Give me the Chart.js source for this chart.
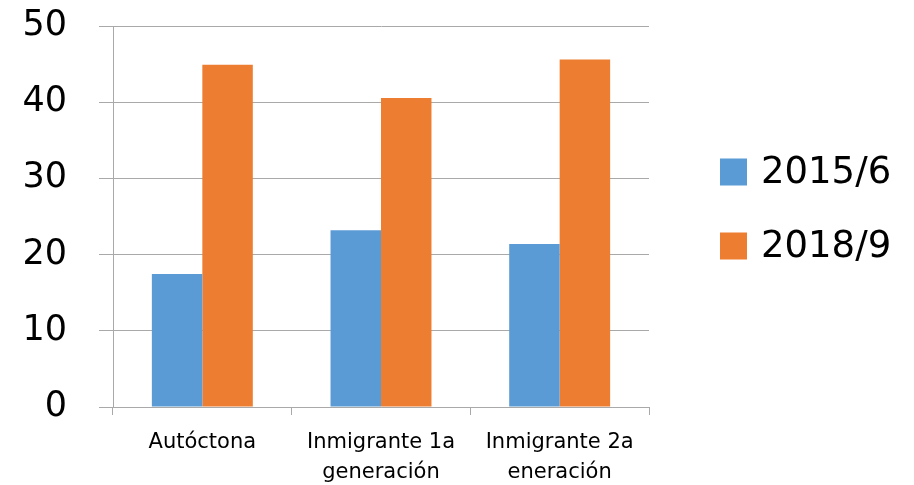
<!DOCTYPE html>
<html>
<head>
<meta charset="utf-8">
<script src="https://cdn.jsdelivr.net/npm/chart.js@4/dist/chart.umd.min.js"></script>
<style>
  html, body { margin: 0; padding: 0; background: #fff; overflow: hidden; }
  #wrap { width: 914px; height: 485px; }
</style>
</head>
<body>
<div id="wrap"><canvas id="myChart" width="914" height="485"></canvas></div>
<script>
const categories = ['Autóctona', ['Inmigrante 1a', 'generación'], ['Inmigrante 2a', 'eneración']];
const seriesNames = ['2015/6', '2018/9'];
const values2015 = [17.45, 23.2, 21.4];
const values2018 = [44.9, 40.55, 45.6];
const yTicks = [0, 10, 20, 30, 40, 50];

const FONT = '"DejaVu Sans", sans-serif';
const GRID = '#a9a9a9';

// legend drawn by hand to the right of the plot
const sideLegend = {
  id: 'sideLegend',
  afterDraw(chart) {
    const ctx = chart.ctx;
    const x = 720, size = 27;
    const rows = [172, 246];
    ctx.save();
    chart.data.datasets.forEach((ds, i) => {
      ctx.fillStyle = ds.backgroundColor;
      ctx.fillRect(x, rows[i] - size / 2, size, size);
      ctx.fillStyle = '#000';
      ctx.font = '37px ' + FONT;
      ctx.textBaseline = 'middle';
      ctx.fillText(ds.label, x + 41, rows[i] + 1);
    });
    ctx.restore();
  }
};

const ctx = document.getElementById('myChart').getContext('2d');
new Chart(ctx, {
  type: 'bar',
  data: {
    labels: categories,
    datasets: [
      { label: seriesNames[0], data: values2015, backgroundColor: '#5b9bd5' },
      { label: seriesNames[1], data: values2018, backgroundColor: '#ed7d31' }
    ]
  },
  options: {
    responsive: false,
    animation: false,
    layout: { padding: { top: 26, right: 265, left: 0, bottom: 0 } },
    datasets: { bar: { categoryPercentage: 0.565, barPercentage: 1 } },
    plugins: { legend: { display: false }, tooltip: { enabled: false } },
    scales: {
      x: {
        afterFit: (scale) => {
          scale.height = 78;
          scale.paddingLeft = 0;
          scale.paddingRight = 0;
        },
        grid: { offset: true, drawOnChartArea: false, color: GRID, tickLength: 8, lineWidth: 1 },
        border: { color: GRID },
        ticks: { color: '#000', font: { family: FONT, size: 21, lineHeight: 1.4 }, padding: 13, maxRotation: 0 }
      },
      y: {
        min: 0,
        max: 50,
        afterBuildTicks: (scale) => { scale.ticks = yTicks.map(v => ({ value: v })); },
        afterFit: (scale) => {
          scale.width = 113;
          scale.paddingTop = 0;
          scale.paddingBottom = 0;
        },
        grid: { color: GRID, tickLength: 14, lineWidth: 1 },
        border: { color: GRID },
        ticks: { color: '#000', font: { family: FONT, size: 35 }, padding: 32 }
      }
    }
  },
  plugins: [sideLegend]
});
</script>
</body>
</html>
